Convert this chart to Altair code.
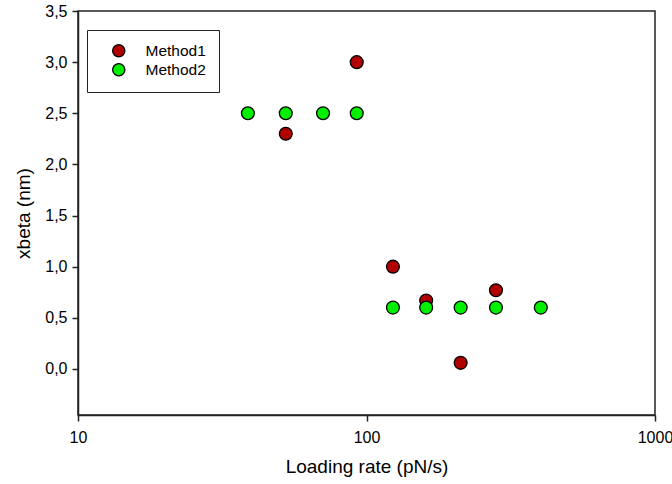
import altair as alt
import pandas as pd

# Loading rate (pN/s) and xbeta (nm) for each method
m1_rate = [92.5, 52.5, 123.5, 161, 281, 212]
m1_xbeta = [3.0, 2.3, 1.0, 0.67, 0.77, 0.06]

m2_rate = [38.8, 52.5, 70.7, 92.5, 123.5, 161, 212, 281, 402]
m2_xbeta = [2.5, 2.5, 2.5, 2.5, 0.6, 0.6, 0.6, 0.6, 0.6]

methods = ["Method1", "Method2"]
colors = ["#B00000", "#00F000"]

df = pd.concat([
    pd.DataFrame({"rate": m1_rate, "xbeta": m1_xbeta, "method": methods[0]}),
    pd.DataFrame({"rate": m2_rate, "xbeta": m2_xbeta, "method": methods[1]}),
], ignore_index=True)

FONT = "Liberation Sans"
INK = "#222222"
LABEL_SIZE = 16
TITLE_SIZE = 19

chart = alt.Chart(df).mark_circle(
    size=165, opacity=1, stroke="black", strokeWidth=1.3
).encode(
    x=alt.X(
        "rate:Q",
        scale=alt.Scale(type="log", domain=[10, 1000], nice=False),
        axis=alt.Axis(
            title="Loading rate (pN/s)",
            values=[10, 100, 1000],
            format="d",
            grid=False,
            tickSize=6,
            labelFlush=False,
            labelAlign="center",
            labelFont=FONT,
            labelFontSize=LABEL_SIZE,
            titleFont=FONT,
            titleFontSize=TITLE_SIZE,
            labelPadding=8,
            titlePadding=12,
        ),
    ),
    y=alt.Y(
        "xbeta:Q",
        scale=alt.Scale(domain=[-0.45, 3.5], nice=False, zero=False),
        axis=alt.Axis(
            title="xbeta (nm)",
            values=[0, 0.5, 1, 1.5, 2, 2.5, 3, 3.5],
            labelExpr="replace(format(datum.value, '.1f'), '.', ',')",
            grid=False,
            tickSize=6,
            labelFlush=False,
            labelFont=FONT,
            labelFontSize=LABEL_SIZE,
            titleFont=FONT,
            titleFontSize=TITLE_SIZE,
            labelPadding=5,
            titlePadding=11,
        ),
    ),
    color=alt.Color(
        "method:N",
        scale=alt.Scale(domain=methods, range=colors),
        legend=alt.Legend(
            title=None,
            orient="none",
            legendX=9,
            legendY=19,
            strokeColor=INK,
            fillColor="white",
            padding=13,
            symbolOffset=11,
            symbolSize=150,
            symbolStrokeColor="black",
            symbolStrokeWidth=1.3,
            symbolType="circle",
            labelFontSize=15.5,
            labelFont=FONT,
            labelColor="black",
            labelOffset=19,
            rowPadding=1,
        ),
    ),
).properties(
    width=577,
    height=404,
    padding={"left": 78, "top": 11, "right": 17, "bottom": 69},
    autosize=alt.AutoSizeParams(type="none"),
).configure_view(
    stroke=INK,
    strokeWidth=1.5,
).configure_axis(
    domainColor=INK,
    tickColor=INK,
    domainWidth=1.5,
    tickWidth=1.5,
    titleFontWeight="normal",
    labelColor="black",
    titleColor="black",
).configure_legend(
    symbolStrokeColor="black"
)

chart.save("out.html", embed_options={"renderer": "svg", "actions": False})
